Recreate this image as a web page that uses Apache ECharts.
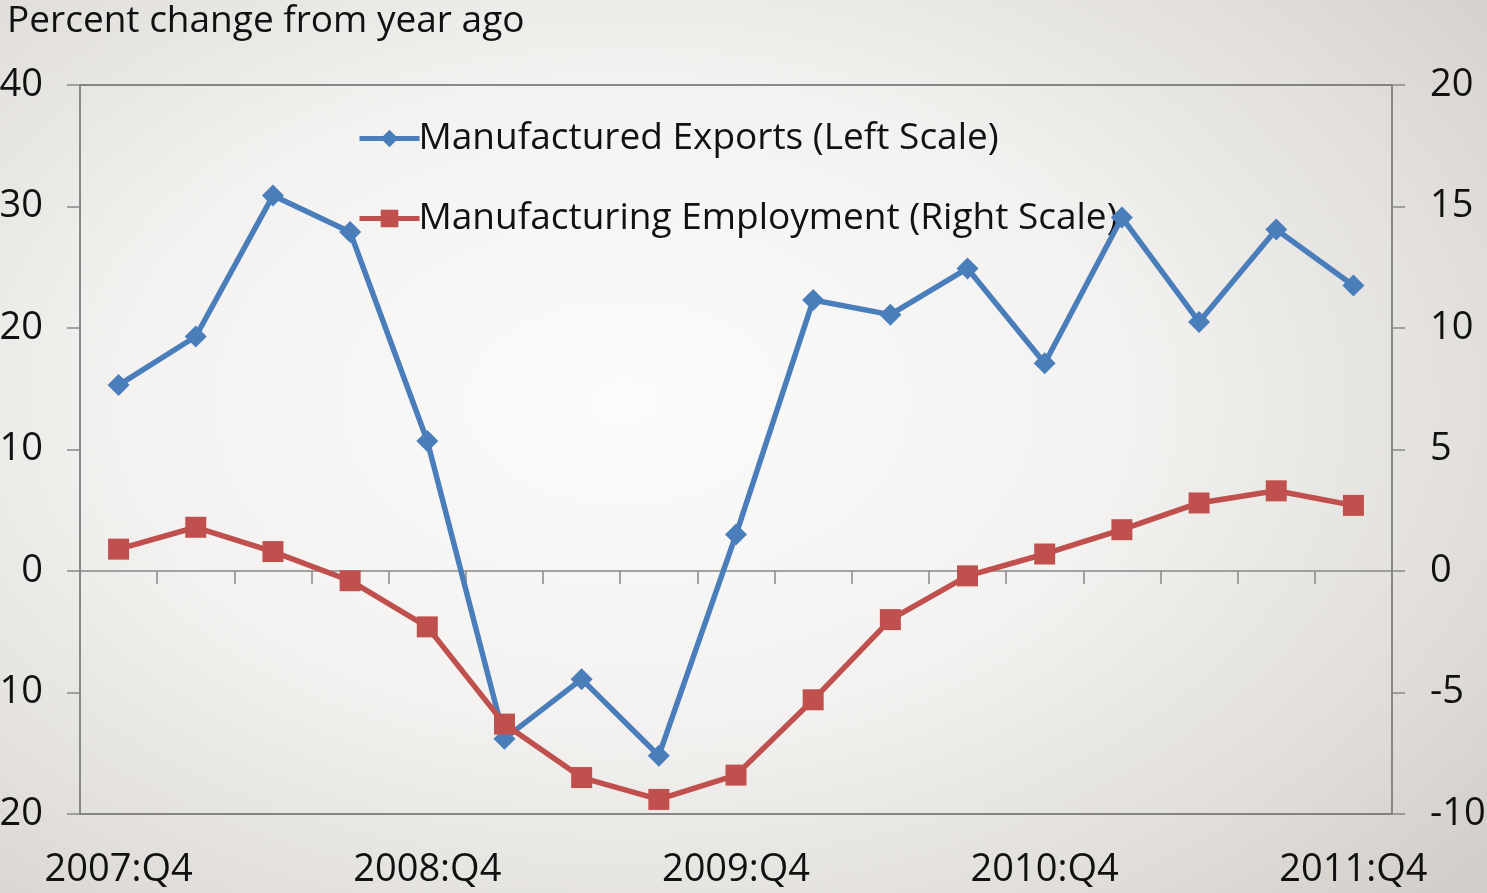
<!DOCTYPE html>
<html>
<head>
<meta charset="utf-8">
<script src="https://cdn.jsdelivr.net/npm/echarts@6/dist/echarts.min.js"></script>
<style>
  html, body { margin: 0; padding: 0; width: 1487px; height: 893px; overflow: hidden; }
  body { background: radial-gradient(ellipse 75% 80% at 42% 45%, #fbfbfa 0%, #f3f2f0 45%, #dddad6 85%, #d2cfca 100%); }
  #chart { width: 1487px; height: 893px; }
</style>
</head>
<body>
<div id="chart"></div>
<script>
// Quarterly categories
const quarters = [
  '2007:Q4', '2008:Q1', '2008:Q2', '2008:Q3', '2008:Q4',
  '2009:Q1', '2009:Q2', '2009:Q3', '2009:Q4',
  '2010:Q1', '2010:Q2', '2010:Q3', '2010:Q4',
  '2011:Q1', '2011:Q2', '2011:Q3', '2011:Q4'
];

// Manufactured exports, percent change from year ago (left scale)
const exportsPct = [15.3, 19.3, 30.9, 27.9, 10.7, -13.8, -8.9, -15.2, 3.0,
                    22.3, 21.1, 24.9, 17.1, 29.1, 20.5, 28.1, 23.5];

// Manufacturing employment, percent change from year ago (right scale)
const employmentPct = [0.9, 1.8, 0.8, -0.4, -2.3, -6.3, -8.5, -9.4, -8.4,
                       -5.3, -2.0, -0.2, 0.7, 1.7, 2.8, 3.3, 2.7];

const seriesNames = ['Manufactured Exports (Left Scale)', 'Manufacturing Employment (Right Scale)'];
const titleText = 'Percent change from year ago';

const FONT = 'Open Sans';
const chart = echarts.init(document.getElementById('chart'), null, { renderer: 'canvas' });

chart.setOption({
  backgroundColor: 'transparent',
  animation: false,
  textStyle: { fontFamily: FONT },
  title: {
    text: titleText,
    left: 2, top: -2,
    textStyle: { fontFamily: FONT, fontSize: 37, fontWeight: 'normal', color: '#111' }
  },
  legend: {
    orient: 'vertical',
    left: 352, top: 115,
    z: 1,
    itemWidth: 60, itemHeight: 22,
    itemGap: 43,
    lineStyle: { width: 5 },
    textStyle: { fontFamily: FONT, fontSize: 37, color: '#111', padding: [0, 0, 0, -6] },
    data: seriesNames
  },
  grid: {
    left: 80, right: 95, top: 85, bottom: 79,
    outerBoundsMode: 'none',
    containLabel: false,
    show: true, borderColor: '#666', borderWidth: 1.5, backgroundColor: 'transparent'
  },
  xAxis: [
    {
      type: 'category', data: quarters, position: 'bottom',
      boundaryGap: true,
      axisLine: { onZero: true, lineStyle: { color: '#888', width: 1.5 } },
      axisTick: { show: true, interval: 0, length: 13, lineStyle: { color: '#888', width: 1.5 } },
      axisLabel: { show: false },
      splitLine: { show: false }
    },
    {
      type: 'category', data: quarters, position: 'bottom',
      boundaryGap: true,
      axisLine: { show: false, onZero: false },
      axisTick: { show: false },
      axisLabel: { show: true, interval: 3, margin: 37, fontFamily: FONT, fontSize: 38, color: '#111' },
      splitLine: { show: false }
    }
  ],
  yAxis: [
    {
      type: 'value', position: 'left', min: -20, max: 40, interval: 10,
      axisLine: { show: true, onZero: false, lineStyle: { color: '#888', width: 1.5 } },
      axisTick: { show: true, length: 13, lineStyle: { color: '#888', width: 1.5 } },
      axisLabel: { margin: 37, fontFamily: FONT, fontSize: 38, color: '#111' },
      splitLine: { show: false }
    },
    {
      type: 'value', position: 'right', min: -10, max: 20, interval: 5,
      axisLine: { show: true, onZero: false, lineStyle: { color: '#888', width: 1.5 } },
      axisTick: { show: true, length: 13, lineStyle: { color: '#888', width: 1.5 } },
      axisLabel: { margin: 38, fontFamily: FONT, fontSize: 38, color: '#111' },
      splitLine: { show: false }
    }
  ],
  series: [
    {
      name: seriesNames[0], type: 'line', data: exportsPct,
      xAxisIndex: 0, yAxisIndex: 0, z: 3,
      symbol: 'diamond', symbolSize: 22,
      lineStyle: { color: '#4a7ebb', width: 5.5 },
      itemStyle: { color: '#4a7ebb' }
    },
    {
      name: seriesNames[1], type: 'line', data: employmentPct,
      xAxisIndex: 0, yAxisIndex: 1, z: 3,
      symbol: 'rect', symbolSize: 21,
      lineStyle: { color: '#c0504d', width: 5.5 },
      itemStyle: { color: '#c0504d' }
    }
  ]
});
</script>
</body>
</html>
